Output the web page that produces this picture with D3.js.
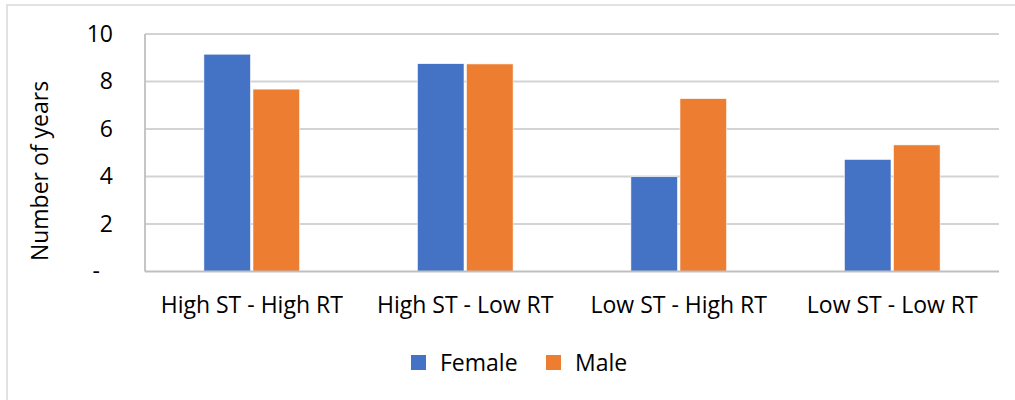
<!DOCTYPE html>
<html>
<head>
<meta charset="utf-8">
<script src="https://cdn.jsdelivr.net/npm/d3@7"></script>
<style>
  html, body { margin: 0; padding: 0; background: #fff; }
  svg text { font-family: "Open Sans", "Noto Sans", sans-serif; fill: #000; }
</style>
</head>
<body>
<svg id="chart" width="1015" height="400"></svg>
<script>
// Average years by streak-type / run-type profile, split by sex
const categories = ["High ST - High RT", "High ST - Low RT", "Low ST - High RT", "Low ST - Low RT"];
const seriesNames = ["Female", "Male"];
const femaleValues = [9.15, 8.75, 3.99, 4.72];
const maleValues = [7.68, 8.74, 7.28, 5.33];
const yTicks = [0, 2, 4, 6, 8, 10];
const colors = ["#4472C4", "#ED7D31"];

const valuesBySeries = [femaleValues, maleValues];
const rows = categories.map((c, i) => ({
  category: c,
  values: seriesNames.map((s, j) => ({ series: s, value: valuesBySeries[j][i] }))
}));

const svg = d3.select("#chart");
const W = 1015, H = 400;
const plot = { left: 145, right: 999, top: 34, bottom: 271.5 };
const fontSize = 23;

// chart frame
svg.append("rect")
  .attr("x", 7).attr("y", 5)
  .attr("width", W + 40).attr("height", H + 40)
  .attr("fill", "none").attr("stroke", "#d9d9d9").attr("stroke-width", 1.5);

const x0 = d3.scaleBand().domain(categories).range([plot.left, plot.right]).padding(0);
const x1 = d3.scaleBand().domain(seriesNames).range([0, x0.bandwidth()])
  .paddingInner(0.05).paddingOuter(1.2);
const y = d3.scaleLinear().domain([0, 10]).range([plot.bottom, plot.top]);
const color = d3.scaleOrdinal().domain(seriesNames).range(colors);

// horizontal gridlines
svg.append("g")
  .selectAll("line")
  .data(yTicks.filter(t => t > 0))
  .join("line")
  .attr("x1", plot.left).attr("x2", plot.right)
  .attr("y1", d => y(d)).attr("y2", d => y(d))
  .attr("stroke", "#d3d3d3").attr("stroke-width", 1.8);

// bars
svg.append("g")
  .selectAll("g")
  .data(rows)
  .join("g")
  .attr("transform", d => `translate(${x0(d.category)},0)`)
  .selectAll("rect")
  .data(d => d.values)
  .join("rect")
  .attr("x", d => x1(d.series))
  .attr("width", x1.bandwidth())
  .attr("y", d => y(d.value))
  .attr("height", d => y(0) - y(d.value))
  .attr("fill", d => color(d.series))
  .attr("stroke", "#fff").attr("stroke-width", 0.6);

// y axis (accounting-style dash for zero)
const yAxis = d3.axisLeft(y)
  .tickValues(yTicks)
  .tickSize(0)
  .tickPadding(0)
  .tickFormat(d => d === 0 ? "-\u2007" : d3.format("d")(d));
const yg = svg.append("g").attr("transform", `translate(${plot.left - 32},0)`).call(yAxis);
yg.select(".domain").remove();
yg.selectAll("text")
  .attr("font-size", fontSize)
  .attr("font-family", "'Open Sans', sans-serif")
  .attr("fill", "#000");

// plot-area left edge and baseline
svg.append("line")
  .attr("x1", plot.left).attr("x2", plot.left)
  .attr("y1", plot.top).attr("y2", plot.bottom)
  .attr("stroke", "#bfbfbf").attr("stroke-width", 1.8);
svg.append("line")
  .attr("x1", plot.left).attr("x2", plot.right)
  .attr("y1", plot.bottom).attr("y2", plot.bottom)
  .attr("stroke", "#bfbfbf").attr("stroke-width", 1.8);

// x axis labels
const xAxis = d3.axisBottom(x0).tickSize(0).tickPadding(0);
const xg = svg.append("g").attr("transform", `translate(0,${plot.bottom + 25})`).call(xAxis);
xg.select(".domain").remove();
xg.selectAll("text")
  .attr("font-size", fontSize)
  .attr("font-family", "'Open Sans', sans-serif")
  .attr("fill", "#000");

// y axis title
svg.append("text")
  .attr("transform", `translate(48,171) rotate(-90)`)
  .attr("text-anchor", "middle")
  .attr("font-size", fontSize)
  .text("Number of years");

// legend
const legend = svg.append("g");
const itemX = [411, 546];
seriesNames.forEach((s, i) => {
  const g = legend.append("g").attr("transform", `translate(${itemX[i]},355)`);
  g.append("rect").attr("width", 15).attr("height", 15).attr("fill", color(s));
  g.append("text").attr("x", 29).attr("y", 16).attr("font-size", fontSize).text(s);
});
</script>
</body>
</html>
